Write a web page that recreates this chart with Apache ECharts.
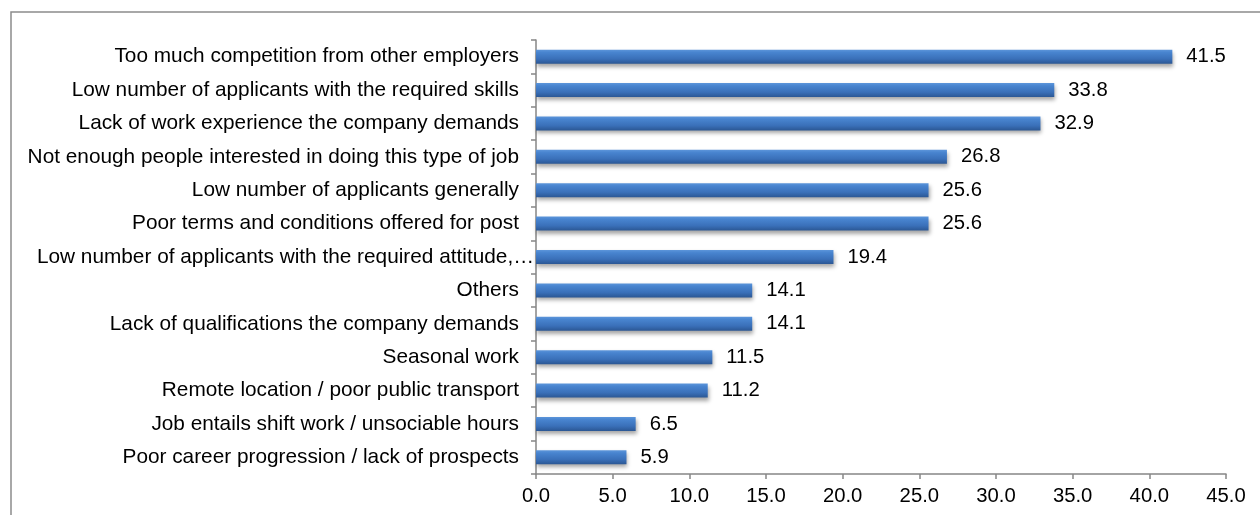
<!DOCTYPE html>
<html>
<head>
<meta charset="utf-8">
<script src="https://cdn.jsdelivr.net/npm/echarts@6/dist/echarts.min.js"></script>
<style>
  html, body { margin: 0; padding: 0; background: #ffffff; }
  #chart { width: 1260px; height: 515px; }
</style>
</head>
<body>
<div id="chart"></div>
<script>
// Reasons given for hard-to-fill vacancies (% of employers)
const categories = [
  'Too much competition from other employers',
  'Low number of applicants with the required skills',
  'Lack of work experience the company demands',
  'Not enough people interested in doing this type of job',
  'Low number of applicants generally',
  'Poor terms and conditions offered for post',
  'Low number of applicants with the required attitude,\u2026',
  'Others',
  'Lack of qualifications the company demands',
  'Seasonal work',
  'Remote location / poor public transport',
  'Job entails shift work / unsociable hours',
  'Poor career progression / lack of prospects'
];
const values = [41.5, 33.8, 32.9, 26.8, 25.6, 25.6, 19.4, 14.1, 14.1, 11.5, 11.2, 6.5, 5.9];
const axisMin = 0;
const axisMax = 45;
const axisStep = 5;

const FONT = "'Liberation Sans', Arial, sans-serif";
const AXIS_GREY = '#868686';

// The truncated label runs right up to the axis line
const yAxisData = categories.map(name =>
  name.endsWith('\u2026')
    ? { value: name, textStyle: { padding: [0, -15, 0, 0] } }
    : name
);

const chart = echarts.init(document.getElementById('chart'), null, { renderer: 'canvas' });

chart.setOption({
  backgroundColor: '#ffffff',
  animation: false,
  graphic: [{
    type: 'rect',
    shape: { x: 11, y: 12, width: 1400, height: 700 },
    style: { fill: 'none', stroke: '#8c8c8c', lineWidth: 1.5 },
    silent: true,
    z: -1
  }],
  grid: { left: 536, right: 34, top: 40, bottom: 41, containLabel: false },
  xAxis: {
    type: 'value',
    min: axisMin,
    max: axisMax,
    interval: axisStep,
    axisLine: { show: true, lineStyle: { color: AXIS_GREY, width: 1.5 } },
    axisTick: { show: true, length: 5, lineStyle: { color: AXIS_GREY, width: 1.5 } },
    splitLine: { show: false },
    axisLabel: {
      margin: 12,
      color: '#000',
      fontFamily: FONT,
      fontSize: 20.3,
      formatter: v => v.toFixed(1)
    }
  },
  yAxis: {
    type: 'category',
    data: yAxisData,
    inverse: true,
    axisLine: { show: true, lineStyle: { color: AXIS_GREY, width: 1.5 } },
    axisTick: { show: true, length: 5, lineStyle: { color: AXIS_GREY, width: 1.5 } },
    axisLabel: {
      margin: 17,
      color: '#000',
      fontFamily: FONT,
      fontSize: 20.8
    }
  },
  series: [{
    type: 'bar',
    data: values,
    barWidth: 14,
    itemStyle: {
      color: new echarts.graphic.LinearGradient(0, 0, 0, 1, [
        { offset: 0, color: '#5c95da' },
        { offset: 0.2, color: '#4884cf' },
        { offset: 0.65, color: '#3a70b9' },
        { offset: 1, color: '#2b5794' }
      ]),
      shadowColor: 'rgba(0,0,0,0.35)',
      shadowBlur: 4,
      shadowOffsetX: 1,
      shadowOffsetY: 3
    },
    label: {
      show: true,
      position: 'right',
      distance: 14,
      color: '#000',
      fontFamily: FONT,
      fontSize: 20.3,
      formatter: p => p.value.toFixed(1)
    }
  }]
});
</script>
</body>
</html>
